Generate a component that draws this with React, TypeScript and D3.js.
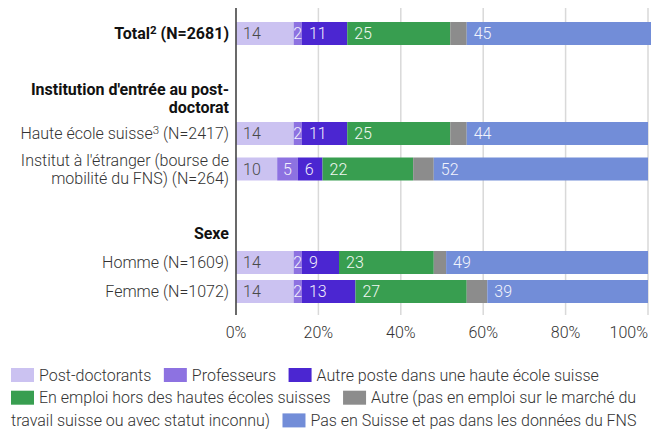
import React, { useEffect, useRef } from "react";
import * as d3 from "d3";

const seriesNames = [
  "Post-doctorants",
  "Professeurs",
  "Autre poste dans une haute école suisse",
  "En emploi hors des hautes écoles suisses",
  "Autre (pas en emploi sur le marché du travail suisse ou avec statut inconnu)",
  "Pas en Suisse et pas dans les données du FNS",
];
const seriesColors = ["#cbc2f1", "#8d72e1", "#4b26d1", "#389e50", "#8c8c8c", "#728dd8"];
const seriesLabelColors = ["#4a4a4a", "#f2f0fc", "#f2f0fc", "#f2f8f3", "#ffffff", "#f2f4fc"];
const seriesShowLabels = [true, true, true, true, false, true];

// rows: kind "bar" rows use the value arrays below (in order)
const rowLabels: string[][] = [
  ["Total^2^ (N=2681)"],
  [],
  ["Institution d'entrée au post-", "doctorat"],
  ["Haute école suisse^3^ (N=2417)"],
  ["Institut à l'étranger (bourse de", "mobilité du FNS) (N=264)"],
  [],
  ["Sexe"],
  ["Homme (N=1609)"],
  ["Femme (N=1072)"],
];
const rowKinds = ["bar", "spacer", "header", "bar", "bar", "spacer", "header", "bar", "bar"];
const rowBold = [true, false, true, false, false, false, true, false, false];

const postDoctorants = [14, 14, 10, 14, 14];
const professeurs = [2, 2, 5, 2, 2];
const autrePoste = [11, 11, 6, 9, 13];
const enEmploiHors = [25, 25, 22, 23, 27];
const autre = [4, 4, 5, 3, 5];
const pasEnSuisse = [45, 44, 52, 49, 39];
const seriesValues = [postDoctorants, professeurs, autrePoste, enEmploiHors, autre, pasEnSuisse];

const xTicks = [0, 20, 40, 60, 80, 100];

const W = 651;
const H = 429;
const FONT = "Roboto, 'Noto Sans', sans-serif";
const FS = 16;

function addRich(textSel: any, str: string, fs: number) {
  const parts = str.split("^");
  let shifted = false;
  parts.forEach((p, i) => {
    if (!p) return;
    const isSup = i % 2 === 1;
    const t = textSel.append("tspan").text(p);
    if (isSup) {
      t.attr("font-size", fs * 0.72).attr("dy", -fs * 0.33);
      shifted = true;
    } else if (shifted) {
      t.attr("dy", fs * 0.33);
      shifted = false;
    }
  });
}

export default function App() {
  const ref = useRef<SVGSVGElement>(null);

  useEffect(() => {
    const svg = d3.select(ref.current);
    svg.selectAll("*").remove();

    const x = d3.scaleLinear().domain([0, 100]).range([236, 648]);
    const barH = 23;
    const lineH = 18;
    const gap = 6;
    const plotTop = 8;

    // layout rows
    let y = 22;
    const layout: { top: number; h: number; center: number }[] = [];
    rowKinds.forEach((k, i) => {
      const lines = rowLabels[i].length;
      const h = Math.max(barH, lines * lineH);
      layout.push({ top: y, h, center: y + h / 2 });
      y += h + gap;
    });
    const plotBottom = y - gap + 12;

    // gridlines
    svg
      .append("g")
      .selectAll("line")
      .data(xTicks.filter((t) => t !== 0))
      .join("line")
      .attr("x1", (d) => x(d))
      .attr("x2", (d) => x(d))
      .attr("y1", plotTop)
      .attr("y2", plotBottom)
      .attr("stroke", "#d9d9d9")
      .attr("stroke-width", 1.5);

    // bars
    let barIdx = 0;
    const gBars = svg.append("g");
    rowKinds.forEach((k, i) => {
      if (k !== "bar") return;
      const bi = barIdx++;
      const L = layout[i];
      const by = L.center - barH / 2;
      let acc = 0;
      seriesValues.forEach((vals, s) => {
        const v = vals[bi];
        const x0 = x(acc);
        const x1 = x(acc + v);
        acc += v;
        gBars
          .append("rect")
          .attr("x", x0)
          .attr("y", by)
          .attr("width", x1 - x0)
          .attr("height", barH)
          .attr("fill", seriesColors[s]);
        if (seriesShowLabels[s]) {
          const t = gBars
            .append("text")
            .attr("y", L.center)
            .attr("dy", "0.36em")
            .attr("font-family", FONT)
            .attr("font-size", FS)
            .attr("font-weight", 300)
            .attr("fill", seriesLabelColors[s])
            .text(String(v));
          const tw = (t.node() as SVGTextElement).getComputedTextLength();
          const w = x1 - x0;
          if (w >= tw + 14) {
            t.attr("x", x0 + 7);
          } else {
            t.attr("x", x0 + w / 2).attr("text-anchor", "middle");
          }
        }
      });
    });

    // axis baseline at 0
    svg
      .append("line")
      .attr("x1", x(0))
      .attr("x2", x(0))
      .attr("y1", plotTop)
      .attr("y2", plotBottom)
      .attr("stroke", "#444")
      .attr("stroke-width", 1.6);

    // row labels
    const gLabels = svg.append("g");
    rowLabels.forEach((lines, i) => {
      const L = layout[i];
      const n = lines.length;
      lines.forEach((ln, j) => {
        const cy = L.center + (j - (n - 1) / 2) * lineH;
        const t = gLabels
          .append("text")
          .attr("x", 229)
          .attr("y", cy)
          .attr("dy", "0.36em")
          .attr("text-anchor", "end")
          .attr("font-family", FONT)
          .attr("font-size", FS)
          .attr("font-weight", rowBold[i] ? 700 : 300)
          .attr("fill", rowBold[i] ? "#111" : "#333");
        addRich(t, ln, FS);
      });
    });

    // x tick labels
    svg
      .append("g")
      .selectAll("text")
      .data(xTicks)
      .join("text")
      .attr("x", (d) => x(d))
      .attr("y", 332)
      .attr("dy", "0.36em")
      .attr("text-anchor", (d, i) => (i === xTicks.length - 1 ? "end" : "middle"))
      .attr("font-family", FONT)
      .attr("font-size", FS)
      .attr("font-weight", 300)
      .attr("fill", "#333")
      .text((d) => d + "%");

    // legend
    const gLeg = svg.append("g");
    const meas = gLeg
      .append("text")
      .attr("font-family", FONT)
      .attr("font-size", FS)
      .attr("font-weight", 300);
    const measure = (s: string) => {
      meas.text(s);
      return (meas.node() as SVGTextElement).getComputedTextLength();
    };
    const left = 11;
    const maxX = 646;
    const rowStep = 22.7;
    let cx = left;
    let cy = 375;
    const drawText = (s: string, tx: number, ty: number) => {
      gLeg
        .append("text")
        .attr("x", tx)
        .attr("y", ty)
        .attr("dy", "0.36em")
        .attr("font-family", FONT)
        .attr("font-size", FS)
        .attr("font-weight", 300)
        .attr("fill", "#333")
        .text(s);
    };
    seriesNames.forEach((name, s) => {
      const words = name.split(" ");
      if (cx > left && cx + 28 + measure(words[0] + " " + (words[1] || "")) > maxX) {
        cx = left;
        cy += rowStep;
      }
      gLeg
        .append("rect")
        .attr("x", cx)
        .attr("y", cy - 7)
        .attr("width", 23)
        .attr("height", 14)
        .attr("fill", seriesColors[s]);
      cx += 28;
      let line = "";
      words.forEach((w) => {
        const cand = line ? line + " " + w : w;
        if (cx + measure(cand) <= maxX) {
          line = cand;
        } else {
          drawText(line, cx, cy);
          cx = left;
          cy += rowStep;
          line = w;
        }
      });
      drawText(line, cx, cy);
      cx += measure(line) + 12.5;
    });
    meas.remove();
  }, []);

  return (
    <svg
      ref={ref}
      width={W}
      height={H}
      style={{ position: "absolute", left: 0, top: 0, background: "#fff" }}
    />
  );
}
